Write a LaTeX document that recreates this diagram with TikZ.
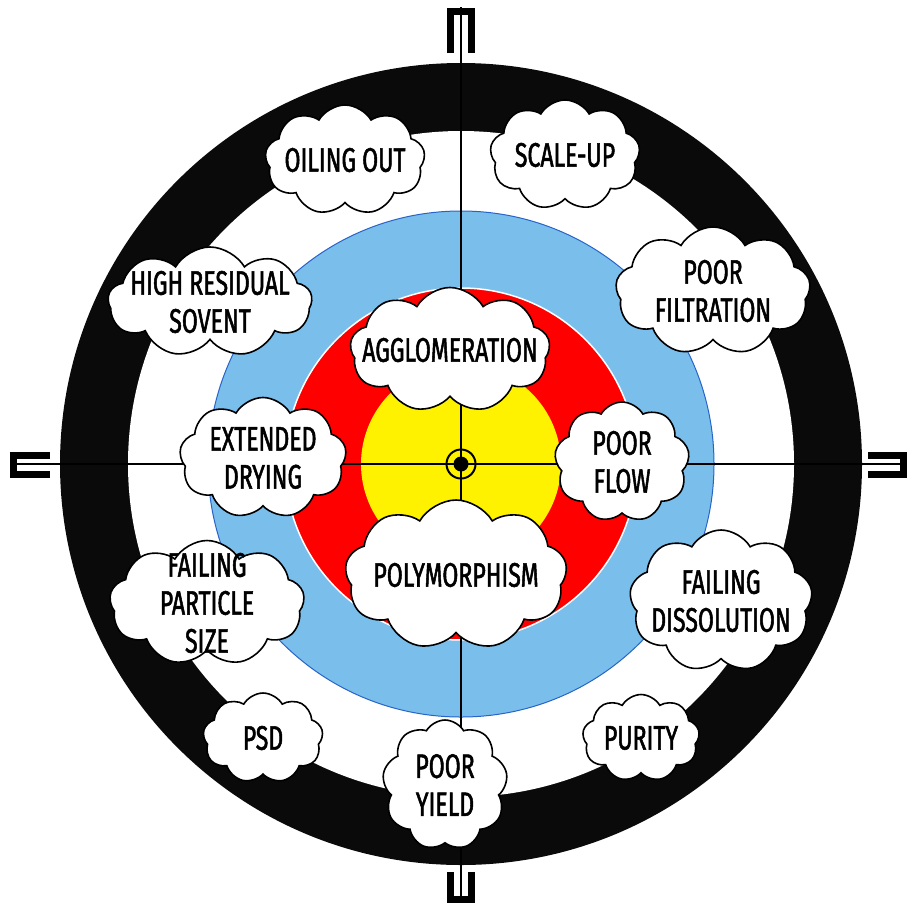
\documentclass[tikz,border=0pt]{standalone}
\usepackage{fontspec}
\setmainfont{Fira Sans}[FakeStretch=0.68, FakeBold=1.5]
\usetikzlibrary{shapes.symbols}
\definecolor{ringblue}{RGB}{122,190,236}
\definecolor{ringedge}{RGB}{40,100,200}

\begin{document}
\begin{tikzpicture}[x=1pt,y=-1pt,
  puff/.style={cloud, cloud puffs=9, cloud puff arc=120, draw=black,
    line width=1.6pt, fill=white, inner sep=0pt},
  word/.style={align=center, inner sep=0pt,
    font=\fontsize{34}{38}\selectfont},
  tick/.style={line width=7pt}]
\useasboundingbox (0,0) rectangle (912,908);

\coordinate (c) at (461,464);

% rings
\fill[black!96] (c) circle (401pt);
\fill[white] (c) circle (333pt);
\filldraw[fill=ringblue, draw=ringedge, line width=1pt] (c) circle (253pt);
\filldraw[fill=red, draw=white, line width=1.5pt] (c) circle (176pt);
\fill[yellow] (c) circle (100pt);

% cross hairs
\coordinate (tT) at (461,7);
\coordinate (tB) at (461,903);
\coordinate (tL) at (10,464);
\coordinate (tR) at (907,464);
\draw[line width=1.8pt] (tT) -- (tB);
\draw[line width=1.8pt] (tL) -- (tR);

\draw[tick] (450.5,53) -- (450.5,11.5) -- (471.5,11.5) -- (471.5,53);
\draw[tick] (450.5,872) -- (450.5,899.5) -- (471.5,899.5) -- (471.5,872);
\draw[tick] (50,455.5) -- (13.5,455.5) -- (13.5,474.5) -- (50,474.5);
\draw[tick] (868,455.5) -- (903.5,455.5) -- (903.5,474.5) -- (868,474.5);

\fill (c) circle (7.5pt);
\draw[line width=2pt] (c) circle (14.5pt);

% clouds
\node[puff, minimum width=160pt, minimum height=110pt] (oil) at (345,160) {};
\node[puff, minimum width=150pt, minimum height=110pt] (scale) at (565,155) {};
\node[puff, minimum width=204pt, minimum height=110pt] (resid) at (210,302) {};
\node[puff, minimum width=195pt, minimum height=128pt] (filt) at (713,291) {};
\node[puff, minimum width=200pt, minimum height=125pt] (agglo) at (450,350) {};
\node[puff, minimum width=167pt, minimum height=121pt] (dry) at (263,458) {};
\node[puff, minimum width=135pt, minimum height=120pt] (flow) at (622,462) {};
\node[puff, minimum width=222pt, minimum height=150pt] (poly) at (456,575) {};
\node[puff, minimum width=195pt, minimum height=125pt] (psize) at (207,603) {};
\node[puff, minimum width=183pt, minimum height=142pt] (dissol) at (721,601) {};
\node[puff, minimum width=120pt, minimum height=90pt] (psd) at (263,738) {};
\node[puff, minimum width=125pt, minimum height=130pt] (yield) at (445,785) {};
\node[puff, minimum width=117pt, minimum height=87pt] (purity) at (641,738) {};

\node[word] (oiltxt) at (oil) {OILING OUT};
\node[word] (scaletxt) at (scale) {SCALE-UP};
\node[word] (residtxt) at (resid) {HIGH RESIDUAL\\SOVENT};
\node[word] (filttxt) at (filt) {POOR\\FILTRATION};
\node[word] (agglotxt) at (agglo) {AGGLOMERATION};
\node[word] (drytxt) at (dry) {EXTENDED\\DRYING};
\node[word] (flowtxt) at (flow) {POOR\\FLOW};
\node[word] (polytxt) at (poly) {POLYMORPHISM};
\node[word] (psizetxt) at (psize) {FAILING\\PARTICLE\\SIZE};
\node[word] (dissoltxt) at (dissol) {FAILING\\DISSOLUTION};
\node[word] (psdtxt) at (psd) {PSD};
\node[word] (yieldtxt) at (yield) {POOR\\YIELD};
\node[word] (puritytxt) at (purity) {PURITY};
\end{tikzpicture}
\end{document}
